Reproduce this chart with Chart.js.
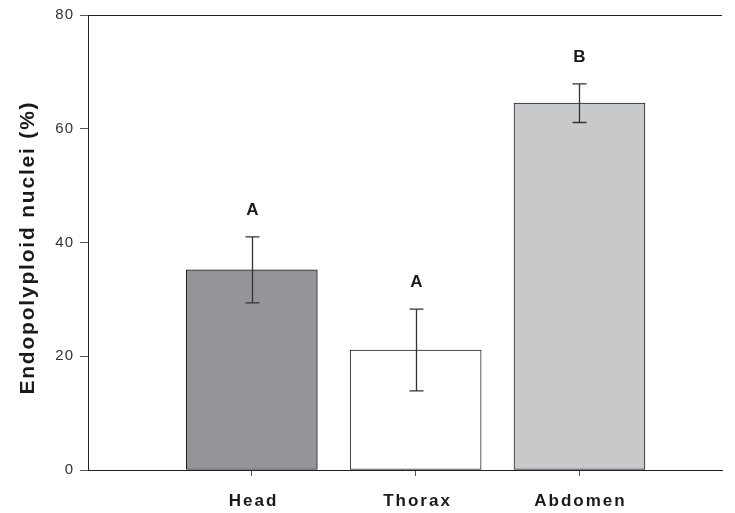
<!DOCTYPE html>
<html>
<head>
<meta charset="utf-8">
<script src="https://cdn.jsdelivr.net/npm/chart.js"></script>
<style>
  html, body { margin: 0; padding: 0; background: #ffffff; }
  #wrap { width: 735px; height: 513px; }
</style>
</head>
<body>
<div id="wrap"><canvas id="chart"></canvas></div>
<script>
const categories = ['Head', 'Thorax', 'Abdomen'];
const positions = [1, 2, 3];
const means = [35.2, 21.1, 64.5];
const errors = [5.8, 7.2, 3.4];
const letters = ['A', 'A', 'B'];
const barColors = ['#939598', '#ffffff', '#c8c9cb'];
const yTicks = [0, 20, 40, 60, 80];
const yTitle = 'Endopolyploid nuclei (%)';

const INK = '#231f20';
const FONT = '"Liberation Sans", Arial, sans-serif';

// spaced text, centered on (x, y)
function spacedText(ctx, text, x, y, spacing) {
  ctx.letterSpacing = spacing + 'px';
  ctx.fillText(text, x + spacing / 2, y);
}

const extras = {
  id: 'extras',
  beforeDraw(chart) {
    chart.ctx.letterSpacing = '1px';
  },
  afterDraw(chart) {
    const { ctx, scales: { x, y }, chartArea } = chart;
    ctx.save();
    // top frame line
    ctx.strokeStyle = INK;
    ctx.lineWidth = 1;
    ctx.beginPath();
    ctx.moveTo(chartArea.left, chartArea.top + 0.5);
    ctx.lineTo(chartArea.right, chartArea.top + 0.5);
    ctx.stroke();

    positions.forEach((p, i) => {
      const px = Math.round(x.getPixelForValue(p)) + 0.5;
      const hi = y.getPixelForValue(means[i] + errors[i]);
      const lo = y.getPixelForValue(means[i] - errors[i]);
      ctx.strokeStyle = '#333333';
      ctx.lineWidth = 1.3;
      ctx.beginPath();
      ctx.moveTo(px, hi); ctx.lineTo(px, lo);
      ctx.moveTo(px - 7, hi); ctx.lineTo(px + 7, hi);
      ctx.moveTo(px - 7, lo); ctx.lineTo(px + 7, lo);
      ctx.stroke();

      ctx.fillStyle = '#1a1a1a';
      ctx.textAlign = 'center';
      ctx.textBaseline = 'middle';
      ctx.font = 'bold 17px ' + FONT;
      spacedText(ctx, letters[i], px, hi - 27, 0);

      // category label
      ctx.font = 'bold 17px ' + FONT;
      spacedText(ctx, categories[i], px, chartArea.bottom + 31, 2);
    });

    // y axis title
    ctx.translate(28, (chartArea.top + chartArea.bottom) / 2 + 6);
    ctx.rotate(-Math.PI / 2);
    ctx.font = 'bold 21px ' + FONT;
    ctx.textAlign = 'center';
    ctx.textBaseline = 'middle';
    spacedText(ctx, yTitle, 0, 0, 1.8);
    ctx.restore();
  }
};

new Chart(document.getElementById('chart'), {
  type: 'bar',
  data: {
    datasets: [{
      data: positions.map((p, i) => ({ x: p, y: means[i] })),
      backgroundColor: barColors,
      borderColor: INK,
      borderWidth: 1,
      borderSkipped: false,
      barThickness: 131
    }]
  },
  options: {
    responsive: true,
    maintainAspectRatio: false,
    animation: false,
    layout: { padding: { left: 0, right: 13, top: 13, bottom: 0 } },
    plugins: { legend: { display: false }, tooltip: { enabled: false } },
    scales: {
      x: {
        type: 'linear',
        offset: false,
        min: 0,
        max: 3.87,
        afterBuildTicks: s => { s.ticks = positions.map(v => ({ value: v })); },
        afterFit: s => { s.height = 43; },
        border: { color: INK, width: 1 },
        grid: { offset: false, drawOnChartArea: false, tickLength: 6, color: '#555555' },
        ticks: { display: true, callback: () => '' }
      },
      y: {
        min: 0,
        max: 80,
        afterBuildTicks: s => { s.ticks = yTicks.map(v => ({ value: v })); },
        afterFit: s => { s.width = 88; },
        border: { color: INK, width: 1 },
        grid: { drawOnChartArea: false, tickLength: 8, color: '#555555' },
        ticks: {
          padding: 6,
          color: '#333333',
          font: { family: FONT, size: 15 }
        }
      }
    }
  },
  plugins: [extras]
});
</script>
</body>
</html>
